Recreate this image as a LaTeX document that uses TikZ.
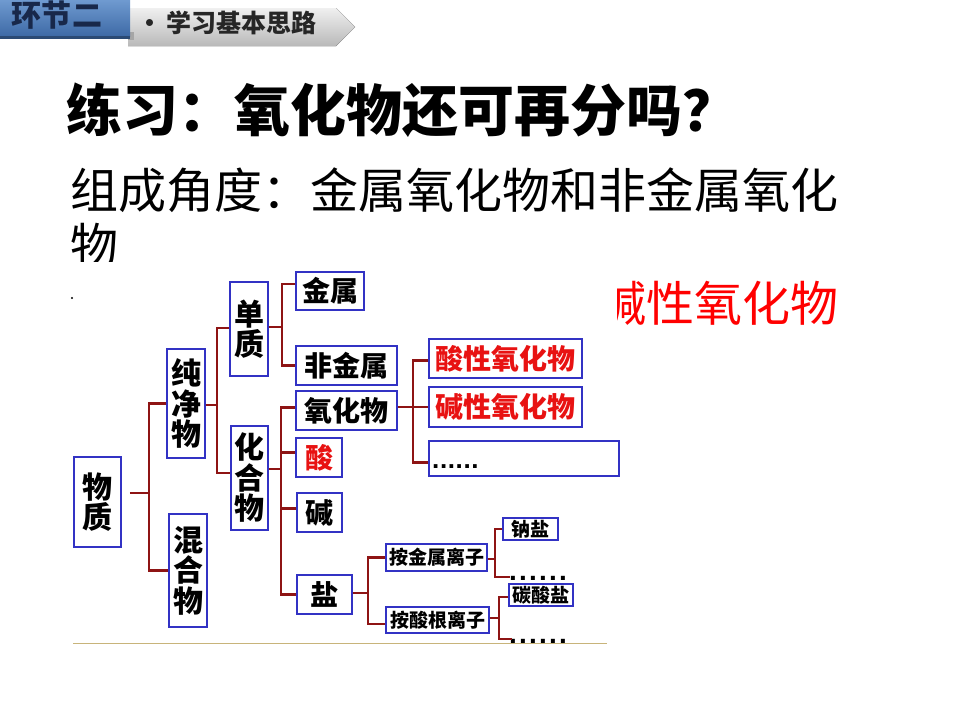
\documentclass[tikz,border=0pt]{standalone}
\usepackage{fontspec}
\newfontfamily\cjk{Noto Sans CJK SC}
\newfontfamily\dotfont{Liberation Sans}
\definecolor{boxblue}{HTML}{3232C4}
\definecolor{conn}{HTML}{8E1414}
\definecolor{txtred}{HTML}{E81212}
\definecolor{hdrtop}{HTML}{6F9AD0}
\definecolor{hdrbot}{HTML}{3E6AA6}
\definecolor{hdrtxt}{HTML}{18284A}
\definecolor{gold}{HTML}{C8B47A}
\newcommand{\sixdots}[1]{.\kern#1.\kern#1.\kern#1.\kern#1.\kern#1.}
\tikzset{
  box/.style={draw=boxblue, line width=1.8pt, fill=white, inner sep=0pt, align=center,
    font=\cjk\bfseries\fontsize{28}{30}\selectfont},
  vbox/.style={box, font=\cjk\bfseries\fontsize{30}{30.5}\selectfont},
  sbox/.style={box, font=\cjk\bfseries\fontsize{19}{20}\selectfont},
  redtxt/.style={text=txtred},
  link/.style={draw=conn, line width=2.5pt},
  dotsbig/.style={inner sep=0pt, anchor=base west, font=\dotfont\bfseries\fontsize{28}{28}\selectfont},
  dotssmall/.style={inner sep=0pt, anchor=base west, font=\dotfont\bfseries\fontsize{26}{26}\selectfont},
}
\begin{document}
\begin{tikzpicture}[x=1pt,y=-1pt]
\useasboundingbox (0,0) rectangle (960,720);
\fill[white] (0,0) rectangle (960,720);

% header
\fill[top color=gray!12, bottom color=gray!55] (128,8) -- (336,8) -- (355,27) -- (336,46) -- (128,46) -- cycle;
\fill[gray!70] (128,32) rectangle (134,40);
\fill[top color=hdrtop, bottom color=hdrbot] (0,0) rectangle (130,36);
\fill[hdrbot!70!black] (0,36) rectangle (130,39);
\node[inner sep=0pt, text=hdrtxt, font=\cjk\bfseries\fontsize{30}{30}\selectfont] (hdr1) at (57,15) {环节二};
\node[inner sep=0pt, text=black!85, anchor=west, font=\cjk\bfseries\fontsize{25}{25}\selectfont] (hdr2) at (137,23) {•\,学习基本思路};

% title and text
\node[inner sep=0pt, anchor=west, font=\cjk\bfseries\fontsize{56}{60}\selectfont] (title) at (66,110) {练习：氧化物还可再分吗？};
\node[inner sep=0pt, anchor=west, font=\cjk\fontsize{48}{52}\selectfont] (line2) at (70,190) {组成角度：金属氧化物和非金属氧化};
\node[inner sep=0pt, anchor=west, font=\cjk\fontsize{48}{52}\selectfont] (line3) at (70,245) {物};
\node[inner sep=0pt, anchor=west, text=red, font=\cjk\fontsize{48}{52}\selectfont] (line4) at (598,303) {碱性氧化物};
\fill[black] (72,298) circle (1.2);

% image cover
\fill[white] (75,262) rectangle (617,648);
\draw[gold, line width=1pt] (73,643) -- (607,643);

% boxes
\node[vbox, minimum width=47pt, minimum height=90pt] (wz) at (97.5,502) {物\\质};
\node[vbox, minimum width=38pt, minimum height=109pt] (cjw) at (186,403.5) {纯\\净\\物};
\node[vbox, minimum width=38pt, minimum height=113pt] (hhw) at (188,570.5) {混\\合\\物};
\node[vbox, minimum width=38pt, minimum height=94pt] (dz) at (249,329) {单\\质};
\node[vbox, minimum width=37pt, minimum height=104pt] (hgw) at (249.5,478) {化\\合\\物};
\node[box, minimum width=68pt, minimum height=38pt] (js) at (330,291) {金属};
\node[box, minimum width=101pt, minimum height=39pt] (fjs) at (346.5,365.5) {非金属};
\node[box, minimum width=101pt, minimum height=39pt] (yhw) at (346.5,410.5) {氧化物};
\node[box, redtxt, minimum width=46pt, minimum height=39pt] (suan) at (319,457.5) {酸};
\node[box, minimum width=45pt, minimum height=39pt] (jian) at (319.5,512.5) {碱};
\node[box, minimum width=55pt, minimum height=39pt] (yan) at (324.5,594.5) {盐};
\node[box, redtxt, minimum width=153pt, minimum height=39pt] (sx) at (505.5,358.5) {酸性氧化物};
\node[box, redtxt, minimum width=153pt, minimum height=40pt] (jx) at (505.5,407) {碱性氧化物};
\node[box, minimum width=190pt, minimum height=35pt] (qt) at (524,458.5) {};
\node[dotssmall] (qtd) at (432,468) {\sixdots{0.6pt}};
\node[sbox, minimum width=101pt, minimum height=27pt] (ajs) at (436.5,557.5) {按金属离子};
\node[sbox, minimum width=103pt, minimum height=26pt] (asg) at (437.5,620) {按酸根离子};
\node[sbox, minimum width=55pt, minimum height=22pt] (ny) at (530.5,529) {钠盐};
\node[sbox, minimum width=64pt, minimum height=22pt] (tsy) at (541,595) {碳酸盐};
\node[dotsbig] (d1) at (509,580) {\sixdots{2.2pt}};
\node[dotsbig] (d2) at (509,643) {\sixdots{2.2pt}};
\coordinate (e1) at (510,577);
\coordinate (e2) at (512,639);

% trunks
\coordinate (t0) at (149,493);
\coordinate (t1) at (217,405);
\coordinate (t2) at (282,327);
\coordinate (t3) at (281,469);
\coordinate (t4) at (413,407);
\coordinate (t5) at (368,593);
\coordinate (t6) at (495,559);
\coordinate (t7) at (499,618);

% connectors
\draw[link] ([xshift=8pt]wz.east |- t0) -- (t0);
\draw[link] (cjw.west) -| (t0) |- (hhw.west);
\draw[link] (cjw.east |- t1) -- (t1);
\draw[link] ([yshift=1pt]dz.west) -| (t1) |- ([yshift=5pt]hgw.west);
\draw[link] (dz.east |- t2) -- (t2);
\draw[link] ([yshift=7pt]js.west) -| (t2) |- (fjs.west);
\draw[link] (hgw.east |- t3) -- (t3);
\draw[link] ([yshift=3pt]yhw.west) -| (t3) |- (yan.west);
\draw[link] ([yshift=5pt]t3 |- suan.west) -- ([yshift=5pt]suan.west);
\draw[link] ([yshift=4pt]t3 |- jian.west) -- ([yshift=4pt]jian.west);
\draw[link] (yhw.east |- t4) -- (t4);
\draw[link] ([yshift=-2pt]sx.west) -| (t4) |- ([yshift=-4pt]qt.west);
\draw[link] (t4) -- (jx.west);
\draw[link] (yan.east |- t5) -- (t5);
\draw[link] (ajs.west) -| (t5) |- ([yshift=-4pt]asg.west);
\draw[link] (ajs.east |- t6) -- (t6);
\draw[link] (ny.west) -| (t6) |- (e1);
\draw[link] (asg.east |- t7) -- (t7);
\draw[link] ([yshift=-2pt]tsy.west) -| (t7) |- (e2);
\end{tikzpicture}
\end{document}
